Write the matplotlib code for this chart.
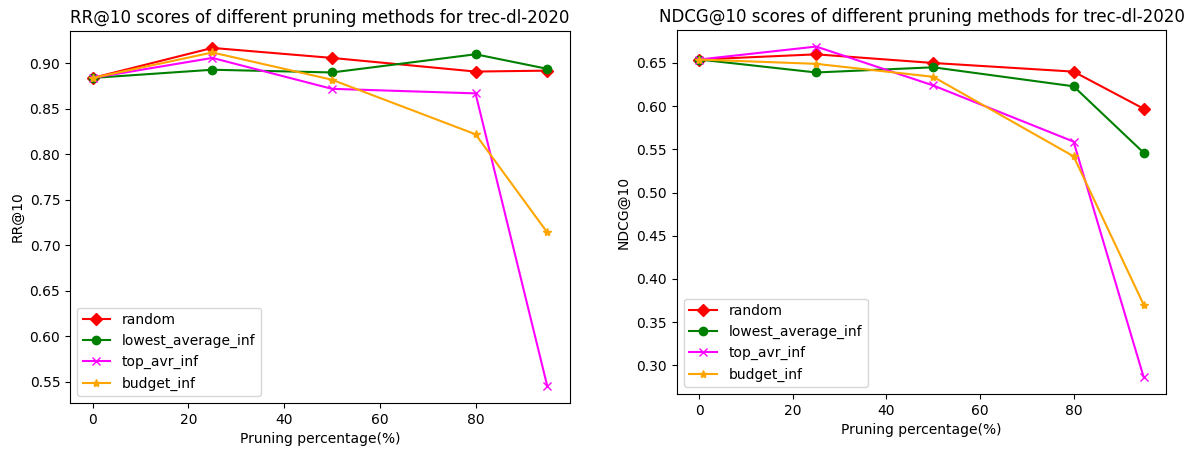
import matplotlib

matplotlib.use("Agg")
import matplotlib.pyplot as plt

# Pruning percentages on the x axis.
PRUNING = [0, 25, 50, 80, 95]
METHODS = ["random", "lowest_average_inf", "top_avr_inf", "budget_inf"]

# RR@10 per method (trec-dl-2020).
RR_RANDOM = [0.884, 0.917, 0.906, 0.891, 0.892]
RR_LOWEST = [0.884, 0.893, 0.890, 0.910, 0.894]
RR_TOP = [0.884, 0.906, 0.872, 0.867, 0.545]
RR_BUDGET = [0.884, 0.912, 0.882, 0.822, 0.714]

# NDCG@10 per method (trec-dl-2020).
NDCG_RANDOM = [0.654, 0.660, 0.650, 0.640, 0.597]
NDCG_LOWEST = [0.654, 0.639, 0.645, 0.623, 0.546]
NDCG_TOP = [0.654, 0.669, 0.624, 0.559, 0.286]
NDCG_BUDGET = [0.654, 0.649, 0.634, 0.542, 0.370]

STYLES = [("red", "D"), ("green", "o"), ("magenta", "x"), ("orange", "*")]


def draw(ax, series, metric):
    for name, values, (color, marker) in zip(METHODS, series, STYLES):
        ax.plot(PRUNING, values, color=color, marker=marker, label=name)
    ax.set_title(f"{metric} scores of different pruning methods for trec-dl-2020")
    ax.set_xlabel("Pruning percentage(%)")
    ax.set_ylabel(metric)
    ax.legend(loc="lower left")


fig = plt.figure(figsize=(11.91, 4.5), dpi=100)
ax1 = fig.add_axes([0.0588, 0.1044, 0.4198, 0.8267])
ax2 = fig.add_axes([0.5684, 0.1244, 0.4106, 0.8089])

draw(ax1, [RR_RANDOM, RR_LOWEST, RR_TOP, RR_BUDGET], "RR@10")
draw(ax2, [NDCG_RANDOM, NDCG_LOWEST, NDCG_TOP, NDCG_BUDGET], "NDCG@10")

fig.savefig("out.png", dpi=100)
plt.close(fig)
